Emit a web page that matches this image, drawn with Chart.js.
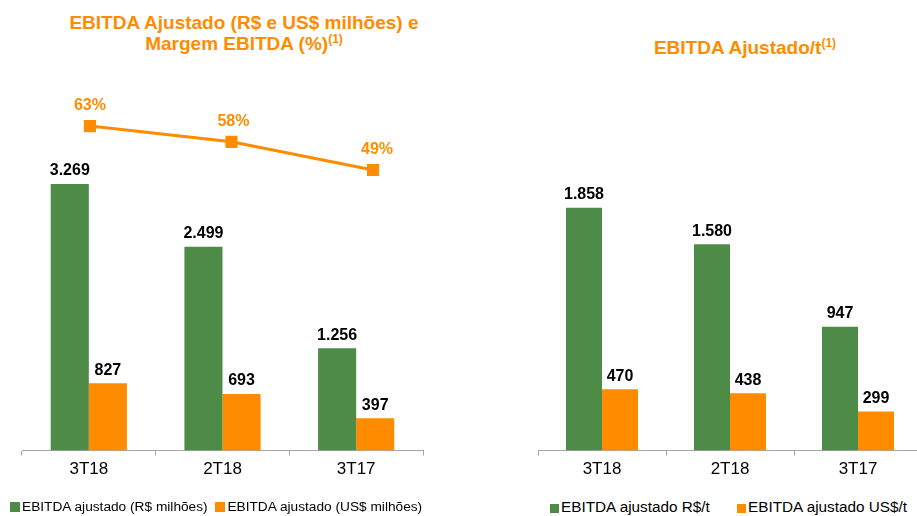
<!DOCTYPE html>
<html>
<head>
<meta charset="utf-8">
<script src="https://cdn.jsdelivr.net/npm/chart.js@4.4.1/dist/chart.umd.min.js"></script>
<style>
  html, body { margin: 0; padding: 0; background: #fff; overflow: hidden; }
  body { width: 917px; height: 516px; position: relative; font-family: "Liberation Sans", Arial, sans-serif; }
  .title { position: absolute; color: #FF8C00; font-weight: bold; font-size: 19px; line-height: 21px; text-align: center; white-space: nowrap; }
  .title sup { font-size: 12px; vertical-align: 7px; line-height: 0; }
  .box { position: absolute; }
  .legend { position: absolute; top: 499px; font-size: 13.7px; color: #000; white-space: nowrap; }
  .legend span.sw { display: inline-block; width: 10px; height: 10px; margin-right: 2px; vertical-align: -1px; }
  .legend .item { display: inline-block; }
  .legend.r { top: 498px; font-size: 15.3px; }
  .legend.r span.sw { width: 9px; height: 9px; }
</style>
</head>
<body>
<div class="title" style="left:24px; top:12px; width:440px;">EBITDA Ajustado (R$ e US$ milhões) e<br>Margem EBITDA (%)<sup>(1)</sup></div>
<div class="title" style="left:600px; top:37px; width:290px;">EBITDA Ajustado/t<sup>(1)</sup></div>

<div class="box" style="left:0; top:0; width:445px; height:490px;"><canvas id="left"></canvas></div>
<div class="box" style="left:0; top:0; width:445px; height:490px;"><canvas id="leftLine"></canvas></div>
<div class="box" style="left:470px; top:0; width:460px; height:490px;"><canvas id="right"></canvas></div>

<div class="legend" style="left:10px;">
  <span class="item"><span class="sw" style="background:#4E8B46"></span>EBITDA ajustado (R$ milhões)</span>
  <span class="item" style="margin-left:4px;"><span class="sw" style="background:#FF8C00"></span>EBITDA ajustado (US$ milhões)</span>
</div>
<div class="legend r" style="left:550px;">
  <span class="item"><span class="sw" style="background:#4E8B46"></span>EBITDA ajustado R$/t</span>
  <span class="item" style="margin-left:23px;"><span class="sw" style="background:#FF8C00"></span>EBITDA ajustado US$/t</span>
</div>

<script>
const categories = ["3T18", "2T18", "3T17"];
const ebitdaBRL = [3269, 2499, 1256];
const ebitdaUSD = [827, 693, 397];
const margin = [63, 58, 49];
const perTonBRL = [1858, 1580, 947];
const perTonUSD = [470, 438, 299];

const GREEN = "#4E8B46";
const ORANGE = "#FF8C00";
const AXIS = "#A6A6A6";
const FONT = "'Liberation Sans', Arial, sans-serif";

function fmt(v) {
  return String(v).replace(/\B(?=(\d{3})+(?!\d))/g, ".");
}

// draws the value labels above bars and points
const valueLabels = {
  id: "valueLabels",
  afterDatasetsDraw(chart) {
    const ctx = chart.ctx;
    ctx.save();
    ctx.font = "bold 16px " + FONT;
    ctx.textAlign = "center";
    ctx.textBaseline = "bottom";
    chart.data.datasets.forEach((ds, i) => {
      const meta = chart.getDatasetMeta(i);
      meta.data.forEach((el, j) => {
        if (meta.type === "line") {
          ctx.fillStyle = ORANGE;
          ctx.fillText(ds.data[j].y + "%", el.x + 2 * j, el.y - 12);
        } else {
          ctx.fillStyle = "#000";
          ctx.fillText(fmt(ds.data[j]), el.x, el.y - 5);
        }
      });
    });
    ctx.restore();
  }
};

function xAxis() {
  return {
    offset: true,
    grid: { display: true, drawOnChartArea: false, drawTicks: true, tickLength: 5, color: AXIS, offset: true },
    border: { display: true, color: AXIS, width: 1 },
    ticks: { color: "#000", padding: 4, font: { family: FONT, size: 17 } }
  };
}

const common = {
  responsive: true,
  maintainAspectRatio: false,
  animation: false,
  plugins: { legend: { display: false }, tooltip: { enabled: false } }
};

new Chart(document.getElementById("left"), {
  type: "bar",
  data: {
    labels: categories,
    datasets: [
      { data: ebitdaBRL, backgroundColor: GREEN, categoryPercentage: 0.57, barPercentage: 1 },
      { data: ebitdaUSD, backgroundColor: ORANGE, categoryPercentage: 0.57, barPercentage: 1 }
    ]
  },
  options: Object.assign({}, common, {
    layout: { padding: { left: 22, right: 22, top: 90, bottom: 6 } },
    scales: {
      x: xAxis(),
      y: { display: false, min: 0, max: 4420 }
    }
  }),
  plugins: [valueLabels]
});

// margin line on its own secondary axes, laid over the left bars
new Chart(document.getElementById("leftLine"), {
  type: "line",
  data: {
    datasets: [{
      data: margin.map((m, i) => ({ x: i, y: m })),
      borderColor: ORANGE,
      backgroundColor: ORANGE,
      borderWidth: 3,
      pointStyle: "rect",
      pointRadius: 6.5,
      tension: 0
    }]
  },
  options: Object.assign({}, common, {
    layout: { padding: { left: 22, right: 22, top: 90, bottom: 39.4 } },
    scales: {
      x: { type: "linear", display: false, min: -0.48, max: 2.353 },
      y: { display: false, min: -40.4, max: 74.5 }
    }
  }),
  plugins: [valueLabels]
});

new Chart(document.getElementById("right"), {
  type: "bar",
  data: {
    labels: categories,
    datasets: [
      { data: perTonBRL, backgroundColor: GREEN, categoryPercentage: 0.5625, barPercentage: 1 },
      { data: perTonUSD, backgroundColor: ORANGE, categoryPercentage: 0.5625, barPercentage: 1 }
    ]
  },
  options: Object.assign({}, common, {
    layout: { padding: { left: 68, right: 8, top: 90, bottom: 6 } },
    scales: {
      x: xAxis(),
      y: { display: false, min: 0, max: 2760 }
    }
  }),
  plugins: [valueLabels]
});
</script>
</body>
</html>
